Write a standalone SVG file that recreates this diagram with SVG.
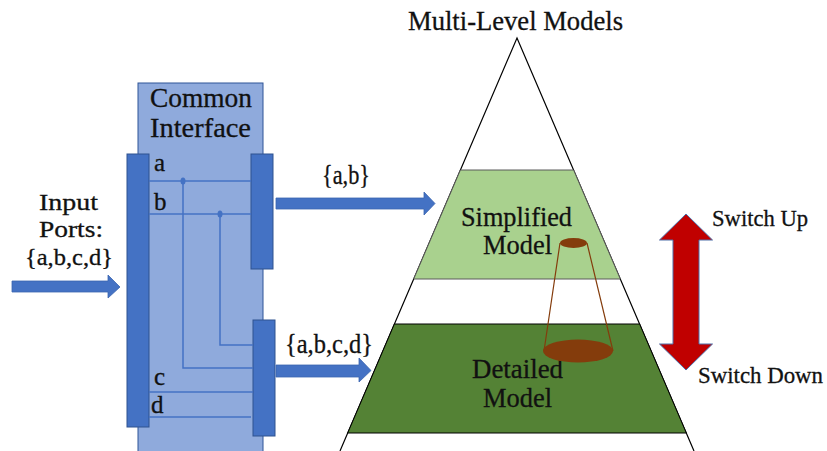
<svg xmlns="http://www.w3.org/2000/svg" width="827" height="451" viewBox="0 0 827 451">
  <style>
    text { font-family: "Liberation Serif", "DejaVu Serif", serif; fill: #111; stroke: #111; stroke-width: 0.3; }
    .lbl { font-size: 27px; }
    .inp { font-size: 24px; }
    .port { font-size: 25px; }
    .sw { font-size: 23px; }
    .bar { fill: #4472C4; stroke: #2F528F; stroke-width: 1; }
    .wire { fill: none; stroke: #4472C4; stroke-width: 1.5; }
    .flow { fill: #4472C4; stroke: #3A64B0; stroke-width: 0.8; }
  </style>
  <rect width="827" height="451" fill="#ffffff"/>

  <!-- Common interface block -->
  <g id="interface">
    <rect x="138" y="83" width="125" height="375" fill="#8FAADC" stroke="#2F5597" stroke-width="1"/>
    <text class="lbl" x="150" y="107" textLength="102" lengthAdjust="spacingAndGlyphs">Common</text>
    <text class="lbl" x="150" y="137" textLength="101" lengthAdjust="spacingAndGlyphs">Interface</text>
  </g>

  <g id="input-bar">
    <rect class="bar" x="127" y="154" width="22" height="273"/>
  </g>
  <g id="out-bar-ab">
    <rect class="bar" x="251" y="154" width="22" height="115"/>
  </g>
  <g id="out-bar-abcd">
    <rect class="bar" x="253" y="320" width="22" height="116"/>
  </g>

  <!-- Port wiring inside the interface -->
  <g id="connectors">
    <path class="wire" d="M149 181 H251"/>
    <path class="wire" d="M149 214 H251"/>
    <path class="wire" d="M183 181 V368 H253"/>
    <path class="wire" d="M220 214 V345 H253"/>
    <path class="wire" d="M149 392 H253"/>
    <path class="wire" d="M149 417 H251"/>
    <ellipse cx="183" cy="181" rx="2.5" ry="3.5" fill="#4472C4"/>
    <ellipse cx="220" cy="214" rx="2.5" ry="3.5" fill="#4472C4"/>

    <!-- block arrows -->
    <path class="flow" d="M12 281 H108 V275 L120 287 L108 298 V292 H12 Z"/>
    <path class="flow" d="M276 198 H424 V192 L435 203.5 L424 215 V209 H276 Z"/>
    <path class="flow" d="M276 365 H359 V358 L371 370.5 L359 382 V377 H276 Z"/>
  </g>

  <g id="port-labels">
    <text class="port" x="154" y="171">a</text>
    <text class="port" x="154" y="210">b</text>
    <text class="port" x="154" y="385">c</text>
    <text class="port" x="151" y="413">d</text>
  </g>

  <g id="input-label">
    <text class="inp" x="39" y="210" textLength="59" lengthAdjust="spacingAndGlyphs">Input</text>
    <text class="inp" x="39" y="237" textLength="64" lengthAdjust="spacingAndGlyphs">Ports:</text>
    <text class="inp" x="25" y="265" textLength="88" lengthAdjust="spacingAndGlyphs">{a,b,c,d}</text>
  </g>
  <text class="lbl" x="322" y="184" textLength="48" lengthAdjust="spacingAndGlyphs">{a,b}</text>
  <text class="lbl" x="285" y="353" textLength="88" lengthAdjust="spacingAndGlyphs">{a,b,c,d}</text>

  <!-- Model pyramid -->
  <g id="pyramid">
    <text class="lbl" x="408" y="30" textLength="215" lengthAdjust="spacingAndGlyphs">Multi-Level Models</text>
    <path d="M340 451 L517 38 L694 451" fill="none" stroke="#000" stroke-width="1.2"/>
  </g>
  <g id="simplified">
    <path d="M460.4 170 H573.6 L620.3 279 H413.7 Z" fill="#A9D18E" stroke="#5A5A5A" stroke-width="1"/>
    <text class="lbl" x="461" y="226" textLength="111" lengthAdjust="spacingAndGlyphs">Simplified</text>
    <text class="lbl" x="483" y="254" textLength="69" lengthAdjust="spacingAndGlyphs">Model</text>
  </g>
  <g id="detailed">
    <path d="M394.4 324 H639.6 L686.3 433 H347.7 Z" fill="#548235" stroke="#000" stroke-width="1"/>
    <text class="lbl" x="472" y="378" textLength="91" lengthAdjust="spacingAndGlyphs">Detailed</text>
    <text class="lbl" x="483" y="407" textLength="69" lengthAdjust="spacingAndGlyphs">Model</text>
  </g>

  <!-- Zoom cone between levels -->
  <g id="cone">
    <path d="M560 243 L544 351 M587 243 L613 351" stroke="#843C0C" stroke-width="1.2" fill="none"/>
    <ellipse cx="578" cy="351" rx="35" ry="11.5" fill="#843C0C"/>
    <ellipse cx="573.5" cy="243" rx="13.5" ry="5" fill="#843C0C"/>
  </g>

  <!-- Switch arrow -->
  <g id="switch">
    <path d="M686 214 L712.5 240 H699 V344 H712.5 L686 370 L659.5 344 H673 V240 H659.5 Z" fill="#C00000" stroke="#4F6EA8" stroke-width="1"/>
    <text class="sw" x="712" y="226" textLength="96" lengthAdjust="spacingAndGlyphs">Switch Up</text>
    <text class="sw" x="698" y="383" textLength="125" lengthAdjust="spacingAndGlyphs">Switch Down</text>
  </g>
</svg>
